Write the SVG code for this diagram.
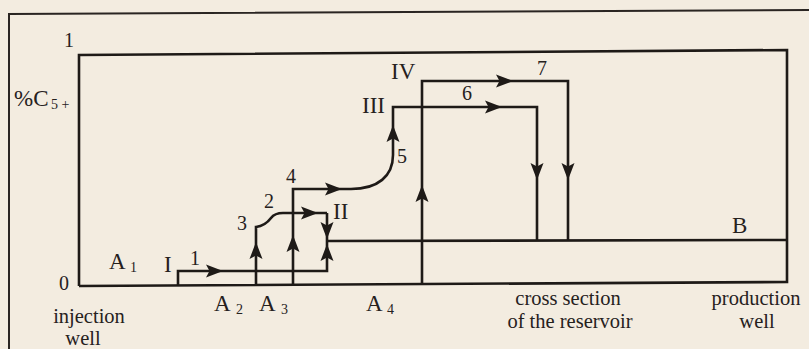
<svg xmlns="http://www.w3.org/2000/svg" width="809" height="349" viewBox="0 0 809 349">
<style>
  .ln{fill:none;stroke:#1e1a17;stroke-width:2.6;stroke-linejoin:miter}
  .fr{fill:none;stroke:#2a2522;stroke-width:2}
  .t{font-family:"Liberation Serif","Times New Roman",serif;fill:#26211d}
  .w{font-size:20.5px;text-anchor:middle}
  .r{font-size:23px}
  .d{font-size:20px}
  .s{font-size:14px}
</style>
<defs>
  <path id="ah" d="M0,0 L-17,-6.5 L-13.5,0 L-17,6.5 Z" fill="#1e1a17"/>
</defs>
<rect width="809" height="349" fill="#f3ece0"/>
<g id="frame">
  <path class="fr" d="M9,349 L9,14 L809,10"/>
</g>
<g id="axes">
  <path class="ln" d="M79,286 L79,55 L787,50 L787,282 L79,286" stroke-width="3"/>
</g>
<g id="connectors">
  <path id="c1" class="ln" d="M178,286 L178,271 L327,271 L327,213"/>
  <path id="c3" class="ln" d="M256,285 L256,227 C264,226 268,222 271,218 C274,214 277,213 283,213 L327,213"/>
  <path id="c4" class="ln" d="M293,285 L293,189 L351,189 C378,189 393,176 393,155 L393,107 L537,107 L537,241"/>
  <path id="cB" class="ln" d="M327,241 L787,240"/>
  <path id="c7" class="ln" d="M422,284 L422,81 L568,81 L568,240"/>
  <g id="heads">
    <use href="#ah" transform="translate(223,271)"/>
    <use href="#ah" transform="translate(256,242) rotate(-90)"/>
    <use href="#ah" transform="translate(293,235) rotate(-90)"/>
    <use href="#ah" transform="translate(327,239) rotate(90)"/>
    <use href="#ah" transform="translate(327,244) rotate(-90)"/>
    <use href="#ah" transform="translate(318,213)"/>
    <use href="#ah" transform="translate(342,189)"/>
    <use href="#ah" transform="translate(393,125) rotate(-90)"/>
    <use href="#ah" transform="translate(502,107)"/>
    <use href="#ah" transform="translate(537,180) rotate(90)"/>
    <use href="#ah" transform="translate(422,185) rotate(-90)"/>
    <use href="#ah" transform="translate(513,81)"/>
    <use href="#ah" transform="translate(568,180) rotate(90)"/>
  </g>
</g>
<g id="labels" class="t">
  <text class="d" x="64" y="47">1</text>
  <text class="r" x="14" y="106">%C<tspan class="s" x="51" y="109">5 +</tspan></text>
  <text class="d" x="59" y="290">0</text>
  <text class="r" x="109" y="269">A<tspan class="s" x="130" y="272">1</tspan></text>
  <text class="r" x="164" y="272">I</text>
  <text class="d" x="190" y="265">1</text>
  <text class="d" x="237" y="230">3</text>
  <text class="d" x="264" y="208">2</text>
  <text class="d" x="286" y="183">4</text>
  <text class="r" x="333" y="219">II</text>
  <text class="r" x="362" y="113">III</text>
  <text class="r" x="391" y="79">IV</text>
  <text class="d" x="397" y="163">5</text>
  <text class="d" x="462" y="100">6</text>
  <text class="d" x="537" y="75">7</text>
  <text class="r" x="732" y="233">B</text>
  <text class="r" x="214" y="311">A<tspan class="s" x="236" y="314">2</tspan></text>
  <text class="r" x="259" y="311">A<tspan class="s" x="281" y="314">3</tspan></text>
  <text class="r" x="366" y="311">A<tspan class="s" x="387" y="314">4</tspan></text>
  <text class="t w" x="89" y="323">injection</text>
  <text class="t w" x="83" y="345">well</text>
  <text class="t w" x="568" y="305">cross section</text>
  <text class="t w" x="570" y="328">of the reservoir</text>
  <text class="t w" x="756" y="305">production</text>
  <text class="t w" x="757" y="328">well</text>
</g>
</svg>
